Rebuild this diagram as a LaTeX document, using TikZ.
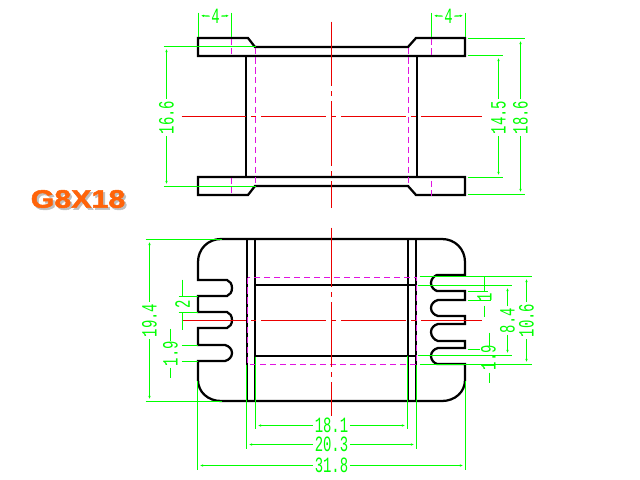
\documentclass[tikz,border=0pt]{standalone}
\usepackage{fontspec}
\usetikzlibrary{arrows.meta}
\newfontfamily\dimfont[FakeStretch=0.64]{Liberation Mono}
\newfontfamily\titlefont[FakeStretch=1.2,FakeBold=2]{Liberation Sans}
\definecolor{dimgreen}{RGB}{0,255,0}
\definecolor{hidemag}{RGB}{225,20,225}
\definecolor{axisred}{RGB}{235,0,0}
\definecolor{titleorange}{RGB}{255,100,10}

\begin{document}
\begin{tikzpicture}[x=0.025cm,y=-0.025cm,
    outline/.style={black,line width=1.6pt},
    hidden/.style={hidemag,line width=0.85pt,dash pattern=on 4.3pt off 2.8pt},
    axis/.style={axisred,line width=0.85pt,dash pattern=on 46.1pt off 3.55pt on 3.55pt off 3.55pt},
    ext/.style={dimgreen,line width=0.85pt},
    dim/.style={dimgreen,line width=0.85pt,-{Latex[length=4pt,width=1.6pt]}},
    dimtext/.style={text=dimgreen,font=\dimfont\fontsize{15.5}{15.5}\selectfont,inner sep=1pt,inner ysep=0pt}]

    \useasboundingbox (0,0) rectangle (640,480);

    % top view
    \draw[outline] (248,38) -- (198,38) -- (198,56) -- (465,56) -- (465,38) -- (416,38) -- (408,47) -- (255,47) -- cycle;
    \draw[outline] (248,195) -- (198,195) -- (198,177) -- (465,177) -- (465,195) -- (416,195) -- (408,186) -- (255,186) -- cycle;
    \draw[outline] (246,56) -- (246,177);
    \draw[outline] (417,56) -- (417,177);

    % bottom view
    \draw[outline] (221,239) -- (442,239) .. controls (455,239) and (465,249) .. (465,262) -- (465,275)
        -- (437,275) .. controls (434,276) and (431,279) .. (431,283) .. controls (431,287) and (434,290) .. (437,291) -- (465,291) -- (465,300)
        -- (438,300) .. controls (434,301) and (431,304) .. (431,308) .. controls (431,312) and (434,315) .. (438,316) -- (465,316) -- (465,324)
        -- (438,324) .. controls (434,325) and (431,328) .. (431,332) .. controls (431,336) and (434,340) .. (438,341) -- (465,341) -- (465,348)
        -- (438,348) .. controls (434,349) and (431,352) .. (431,356) .. controls (431,360) and (434,363) .. (437,364) -- (465,364) -- (465,380)
        .. controls (465,392) and (455,401) .. (442,401) -- (221,401) .. controls (208,401) and (198,392) .. (198,380) -- (198,361)
        -- (225,361) .. controls (229,360) and (232,357) .. (232,353) .. controls (232,349) and (229,346) .. (225,345) -- (198,345) -- (198,328)
        -- (227,328) .. controls (230,327) and (232,324) .. (232,320) .. controls (232,316) and (230,313) .. (227,312) -- (198,312) -- (198,296)
        -- (227,296) .. controls (230,295) and (232,292) .. (232,288) .. controls (232,284) and (230,281) .. (227,280) -- (198,280) -- (198,262)
        .. controls (198,249) and (208,239) .. (221,239) -- cycle;
    \draw[outline] (247,239) -- (247,401);
    \draw[outline] (255,239) -- (255,401);
    \draw[outline] (408,239) -- (408,401);
    \draw[outline] (416,239) -- (416,401);
    \draw[outline] (255,285) -- (416,285);
    \draw[outline] (255,356) -- (416,356);

    \begin{scope}[shift={(0.5,0.5)}]
    % hidden lines
    \draw[hidden] (231,38) -- (231,53);
    \draw[hidden] (231,177) -- (231,192);
    \draw[hidden] (431,38) -- (431,55);
    \draw[hidden] (431,180) -- (431,195);
    \draw[hidden] (255,47) -- (255,186);
    \draw[hidden] (408,47) -- (408,186);
    \draw[hidden] (247,277) rectangle (416,364);

    % center lines
    \draw[axis] (181,116) -- (481,116);
    \draw[axis] (331,21) -- (331,207);
    \draw[axis] (181,320) -- (481,320);
    \draw[axis,dash phase=3.55pt] (331,227) -- (331,415);

    % labels
    \node[dimtext] (w4l) at (215,16) {4};
    \node[dimtext] (w4r) at (448,16) {4};
    \node[dimtext,rotate=90] (h166) at (166,117) {16.6};
    \node[dimtext,rotate=90] (h145) at (498,117) {14.5};
    \node[dimtext,rotate=90] (h186) at (520,117) {18.6};
    \node[dimtext,rotate=90] (h194) at (149,320) {19.4};
    \node[dimtext,rotate=90] (s2) at (182,304) {2};
    \node[dimtext,rotate=90] (s19l) at (170,353) {1.9};
    \node[dimtext,rotate=90] (s1) at (484,297) {1};
    \node[dimtext,rotate=90] (s19r) at (488,357) {1.9};
    \node[dimtext,rotate=90] (h84) at (507,320) {8.4};
    \node[dimtext,rotate=90] (h106) at (526,320) {10.6};
    \node[dimtext] (w181) at (331,425) {18.1};
    \node[dimtext] (w203) at (331,444) {20.3};
    \node[dimtext] (w318) at (331,465) {31.8};

    % extension lines
    \draw[ext] (198,12) -- (198,36);
    \draw[ext] (231,12) -- (231,36);
    \draw[ext] (431,12) -- (431,36);
    \draw[ext] (465,12) -- (465,36);
    \draw[ext] (163,46) -- (255,46);
    \draw[ext] (163,186) -- (255,186);
    \draw[ext] (467,55) -- (502,55);
    \draw[ext] (467,177) -- (502,177);
    \draw[ext] (467,38) -- (524,38);
    \draw[ext] (467,194) -- (524,194);
    \draw[ext] (145,239) -- (221,239);
    \draw[ext] (145,401) -- (221,401);
    \draw[ext] (178,296) -- (197,296);
    \draw[ext] (178,312) -- (197,312);
    \draw[ext] (181,345) -- (197,345);
    \draw[ext] (181,361) -- (197,361);
    \draw[ext] (467,291) -- (487,291);
    \draw[ext] (467,300) -- (490,300);
    \draw[ext] (467,349) -- (479,349);
    \draw[ext] (417,285) -- (511,285);
    \draw[ext] (417,355) -- (511,355);
    \draw[ext] (419,276) -- (531,276);
    \draw[ext] (419,364) -- (531,364);
    \draw[ext] (255,356) -- (255,428);
    \draw[ext] (407,355) -- (407,428);
    \draw[ext] (246,364) -- (246,448);
    \draw[ext] (416,364) -- (416,448);
    \draw[ext] (197,380) -- (197,469);
    \draw[ext] (465,380) -- (465,469);

    % dimension lines
    \draw[dim] (w4l) -- (198,15);
    \draw[dim] (w4l) -- (231,15);
    \draw[dim] (w4r) -- (431,15);
    \draw[dim] (w4r) -- (465,15);
    \draw[dim] (h166) -- (166,46);
    \draw[dim] (h166) -- (166,186);
    \draw[dim] (h145) -- (498,55);
    \draw[dim] (h145) -- (498,177);
    \draw[dim] (h186) -- (520,38);
    \draw[dim] (h186) -- (520,194);
    \draw[dim] (h194) -- (149,239);
    \draw[dim] (h194) -- (149,401);
    \draw[ext] (182,279) -- (182,296);
    \draw[ext] (182,312) -- (182,329);
    \draw[ext] (170,328) -- (170,340);
    \draw[ext] (170,367) -- (170,377);
    \draw[ext] (484,276) -- (484,291);
    \draw[ext] (484,305) -- (484,316);
    \draw[ext] (489,332) -- (489,345);
    \draw[ext] (489,372) -- (489,382);
    \draw[dim] (h84) -- (507,285);
    \draw[dim] (h84) -- (507,355);
    \draw[dim] (h106) -- (526,276);
    \draw[dim] (h106) -- (526,364);
    \draw[dim] (w181) -- (255,425);
    \draw[dim] (w181) -- (407,425);
    \draw[dim] (w203) -- (246,444);
    \draw[dim] (w203) -- (416,444);
    \draw[dim] (w318) -- (197,465);
    \draw[dim] (w318) -- (465,465);
    \end{scope}

    % part name
    \node[text=black!25,font=\titlefont\bfseries\fontsize{18}{18}\selectfont,inner sep=0pt] (nameshadow) at (80,201) {G8X18};
    \node[text=titleorange,font=\titlefont\bfseries\fontsize{18}{18}\selectfont,inner sep=0pt] (name) at (78,199) {G8X18};
\end{tikzpicture}
\end{document}
